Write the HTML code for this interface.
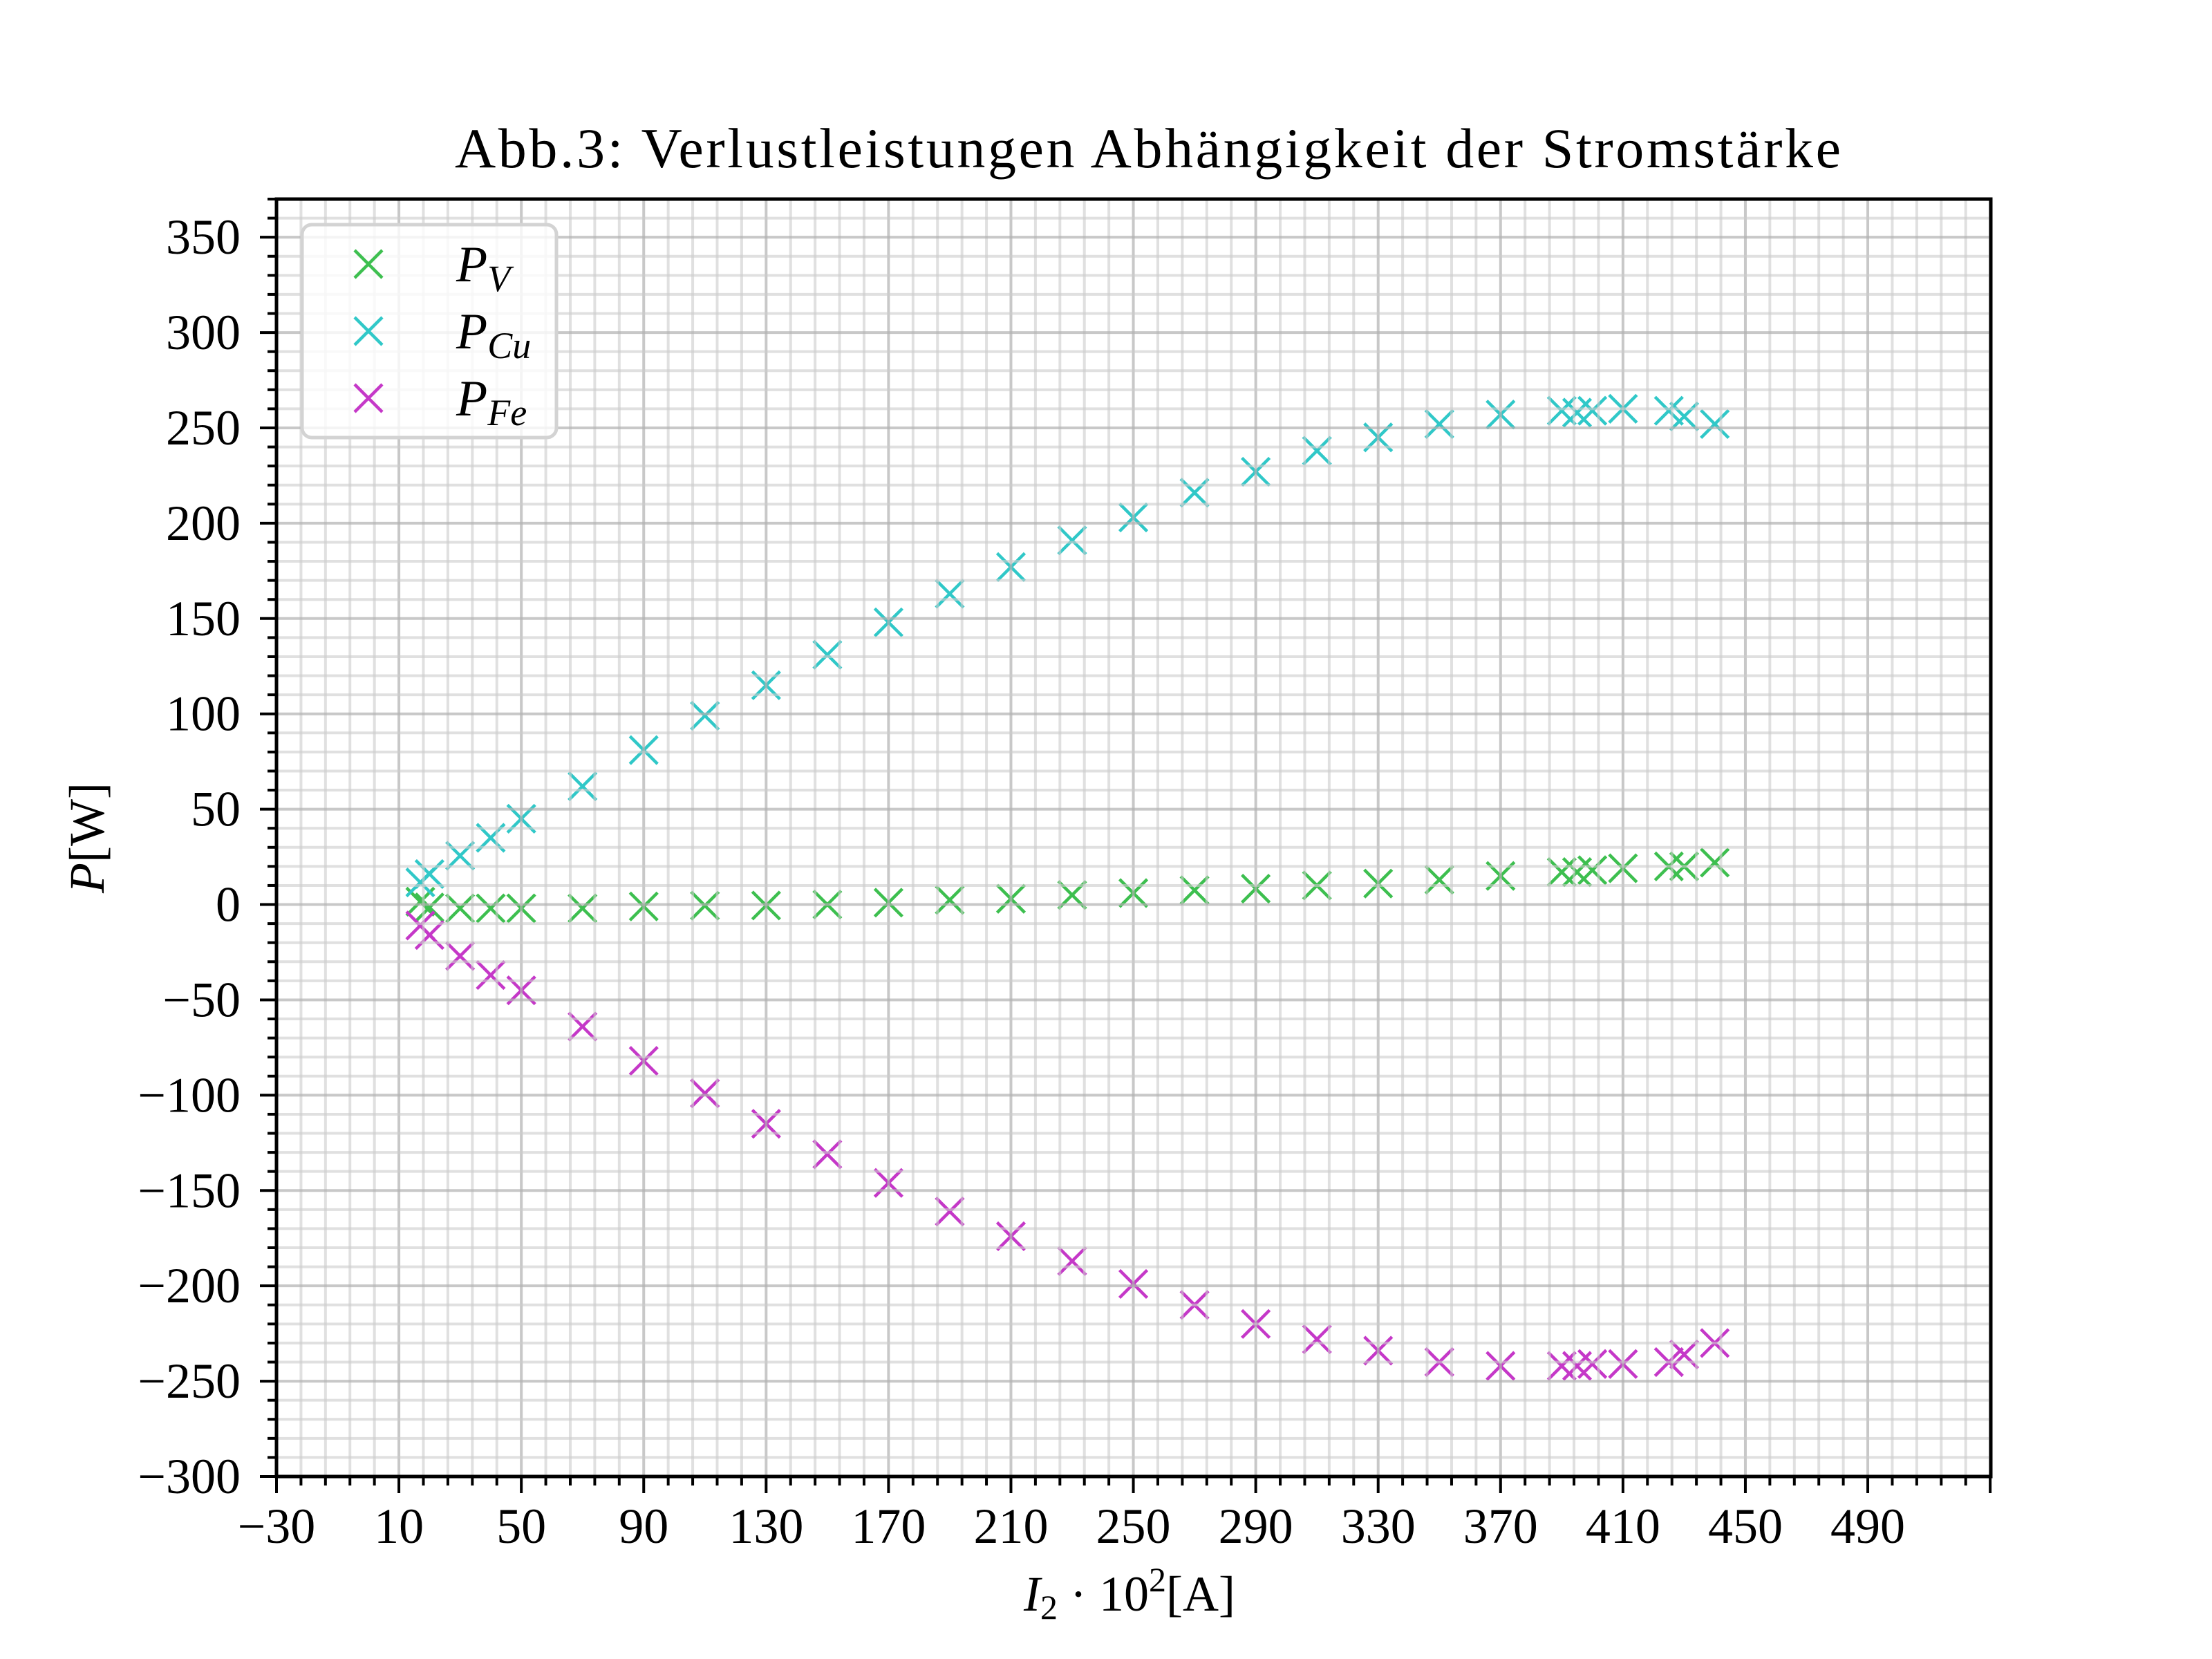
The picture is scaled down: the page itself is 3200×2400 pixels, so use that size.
<!DOCTYPE html>
<html><head><meta charset="utf-8"><style>
html,body{margin:0;padding:0;background:#fff}
svg{display:block}
text{font-family:"Liberation Serif","DejaVu Serif",serif;fill:#000}
</style></head><body>
<svg id="chart" width="3200" height="2400" viewBox="0 0 3200 2400" xmlns="http://www.w3.org/2000/svg">
<rect width="3200" height="2400" fill="#fff"/>
<g id="grid"></g>
<g id="marks"></g>
<g id="gridTop"></g>
<g id="axes"></g>
<text x="658" y="242" font-size="82" textLength="2005" lengthAdjust="spacing">Abb.3: Verlustleistungen Abhängigkeit der Stromstärke</text>
<text x="1634" y="2330" font-size="72" text-anchor="middle"><tspan font-style="italic">I</tspan><tspan font-size="50" dy="12">2</tspan><tspan dy="-12"> · 10</tspan><tspan font-size="50" dy="-28">2</tspan><tspan dy="28">[A]</tspan></text>
<text transform="translate(150,1212) rotate(-90)" font-size="72" text-anchor="middle"><tspan font-style="italic">P</tspan>[W]</text>
<g id="legend"></g>
</svg>
<script>
const xVals = [17,20,30,40,50,70,90,110,130,150,170,190,210,230,250,270,290,310,330,350,370,390,395,400,410,425,430,440];
const pV  = [1.5,-1.5,-2,-2,-2,-2,-1,-0.6,-0.5,0,1,2.4,3,5,6,7.5,8.3,10,11,13,15,17,17,18,19,20,20,22];
const pCu = [11.6,16,25.6,35,45,62,81,99,115,131,148,163,177,191,203,216,227,238,245,252,257,259,258,259,260,259,256,252];
const pFe = [-11,-16,-27,-37,-45,-64,-82,-99,-115,-131,-146,-161,-174,-187,-199,-210,-220,-228,-234,-240,-242,-242,-242,-241,-241,-240,-236,-230];
const xTicks = [-30,10,50,90,130,170,210,250,290,330,370,410,450,490];
const yTicks = [-300,-250,-200,-150,-100,-50,0,50,100,150,200,250,300,350];

const NS="http://www.w3.org/2000/svg";
const L=400,R=2880,T=288,B=2136, X0=-30,X1=530.2,Y0=-300,Y1=370;
const sx=v=>L+(v-X0)/(X1-X0)*(R-L);
const sy=v=>B-(v-Y0)/(Y1-Y0)*(B-T);
function mk(tag,attrs,parent){const e=document.createElementNS(NS,tag);for(const k in attrs)e.setAttribute(k,attrs[k]);parent.appendChild(e);return e;}
const grid=document.getElementById('grid'),gridTop=document.getElementById('gridTop'),axes=document.getElementById('axes'),marks=document.getElementById('marks');
for(let v=-30;v<=X1;v+=8){const x=sx(v);const major=((v+30)%40===0);
 const ln=mk('line',{x1:x,x2:x,y1:T,y2:B,stroke:major?'#b0b0b0':'#cccccc','stroke-width':4,'stroke-opacity':major?0.7:0.6},gridTop);
 
 
 const tk=mk('line',{x1:x,x2:x,y1:B,y2:B+(major?24:13),stroke:'#000','stroke-width':4},axes);
 
 }
for(let v=-300;v<=Y1;v+=10){const y=sy(v);const major=(v%50===0);
 const ln=mk('line',{x1:L,x2:R,y1:y,y2:y,stroke:major?'#b0b0b0':'#cccccc','stroke-width':4,'stroke-opacity':major?0.7:0.6},gridTop);
 
 
 const tk=mk('line',{x1:L,x2:L-(major?24:13),y1:y,y2:y,stroke:'#000','stroke-width':4},axes);
 
 }
xTicks.forEach(v=>{const t=mk('text',{x:sx(v),y:2232,'font-size':72,'text-anchor':'middle'},axes);t.textContent=(v<0?'\u2212'+(-v):v);
 
 });
yTicks.forEach(v=>{const t=mk('text',{x:348,y:sy(v)+24,'font-size':72,'text-anchor':'end'},axes);t.textContent=(v<0?'\u2212'+(-v):v);
 
 });
const frame=mk('rect',{x:L,y:T,width:R-L,height:B-T,fill:'none',stroke:'#000','stroke-width':5},axes);


function cross(x,y,c,parent,name){const h=20;const g=mk('g',{stroke:c,'stroke-width':4.5},parent);
 
 
 mk('line',{x1:x-h,y1:y-h,x2:x+h,y2:y+h},g);mk('line',{x1:x-h,y1:y+h,x2:x+h,y2:y-h},g);}
const series=[['p-v',pV,'#3dbf4f'],['p-cu',pCu,'#30c8c8'],['p-fe',pFe,'#c538c8']];
series.forEach(([n,arr,c])=>{arr.forEach((v,i)=>cross(sx(xVals[i]),sy(v),c,marks,n+'-point'));});
const lg=document.getElementById('legend');
const box=mk('rect',{x:437,y:325,width:368,height:308,rx:14,fill:'#fff','fill-opacity':0.8,stroke:'#d3d3d3','stroke-width':5},lg);


const labels=[['V'],['Cu'],['Fe']];
series.forEach(([n,arr,c],i)=>{const y=382+i*97;cross(533,y,c,lg,'legend-marker-'+n);
 const t=mk('text',{x:660,y:y+25,'font-size':74},lg);
 
 
 const a=mk('tspan',{'font-style':'italic'},t);a.textContent='P';
 const b=mk('tspan',{'font-style':'italic','font-size':54,dy:14},t);b.textContent=labels[i][0];});
</script>
</body></html>
